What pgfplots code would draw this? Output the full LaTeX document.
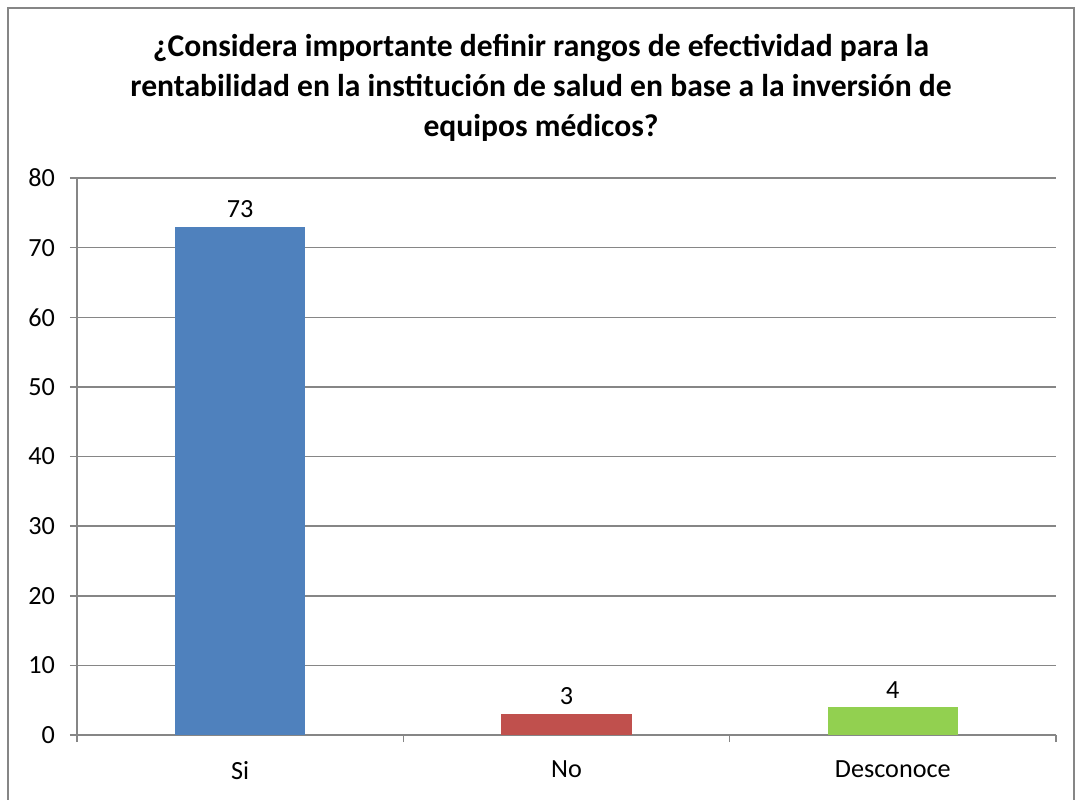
\documentclass[border=0pt]{standalone}
\usepackage{pgfplots}
\pgfplotsset{compat=1.18}
\usepackage{fontspec}
\setmainfont{Carlito}
\definecolor{barblue}{HTML}{4F81BD}
\definecolor{barred}{HTML}{C0504D}
\definecolor{bargreen}{HTML}{92D050}
\definecolor{axgray}{HTML}{868686}
\begin{document}
\begin{tikzpicture}[x=1pt,y=1pt]
\useasboundingbox (0,0) rectangle (541,399.5);
\draw[axgray, line width=0.75pt] (4,-10) rectangle (537,395.5);
\node[align=center, font=\fontsize{15.8}{20}\selectfont\bfseries] at (270.5,355.5)
  {¿Considera importante definir rangos de efectividad para la\\rentabilidad en la institución de salud en base a la inversión de\\equipos médicos?};
\begin{axis}[
  at={(38.5pt,32pt)}, anchor=south west,
  width=489.5pt, height=278.5pt, scale only axis,
  xmin=-0.5, xmax=2.5, ymin=0, ymax=80,
  ytick={0,10,...,80},
  xtick={0,1,2}, xticklabels={Si,No,Desconoce},
  minor xtick={-0.5,0.5,1.5,2.5},
  axis lines*=left,
  axis line style={axgray, line width=0.75pt, -},
  ymajorgrids, grid style={axgray, line width=0.75pt},
  major x tick style={draw=none},
  minor x tick style={axgray, line width=0.75pt},
  major y tick style={axgray, line width=0.75pt},
  tick align=outside,
  major tick length=3.5pt, minor tick length=3.5pt,
  /pgf/number format/assume math mode=true,
  tick label style={font=\fontsize{13.1}{15}\selectfont},
  yticklabel style={xshift=-4pt},
  xticklabel style={yshift=-6pt},
  ybar, bar width=65pt, bar shift=0pt,
  nodes near coords,
  every node near coord/.append style={font=\fontsize{13.1}{15}\selectfont, yshift=1pt},
]
\addplot[fill=barblue, draw=none] coordinates {(0,73)};
\addplot[fill=barred, draw=none] coordinates {(1,3)};
\addplot[fill=bargreen, draw=none] coordinates {(2,4)};
\end{axis}
\end{tikzpicture}
\end{document}
